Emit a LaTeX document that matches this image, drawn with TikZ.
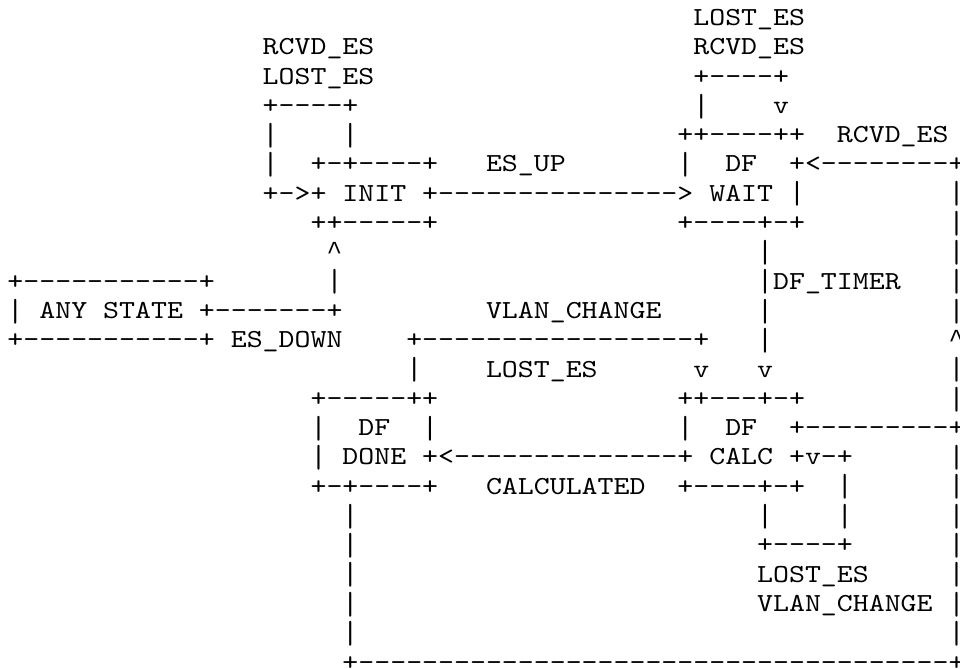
\documentclass[tikz,border=0pt]{standalone}
\usepackage{fontspec}
\newfontfamily\asciifont{lmmono10-regular.otf}[Ligatures=TeXOff,FakeStretch=1.1685]
\newfontfamily\caretfont{Liberation Mono}
\ExplSyntaxOn
\cs_new:Npn \dsh #1 { \prg_replicate:nn {#1} {-} }
\ExplSyntaxOff
\newcommand\vbr{\raisebox{-2.7pt}{\scalebox{1}[1.23]{|}}}
\newcommand\crt{\makebox[15.95pt]{\caretfont\textasciicircum}}
\tikzset{ch/.style={anchor=base west, inner sep=0pt, outer sep=0pt,
  font=\asciifont\fontsize{26}{26}\selectfont, text=black}}
\begin{document}
\begin{tikzpicture}[x=15.95pt,y=-29.3pt]
\useasboundingbox (-0.4702,0.1297) rectangle (59.718,22.929);
% line 1
\node[ch] (r1a) at (43,1) {LOST\_ES};
% line 2
\node[ch] (r2a) at (16,2) {RCVD\_ES};
\node[ch] (r2b) at (43,2) {RCVD\_ES};
% line 3
\node[ch] (r3a) at (16,3) {LOST\_ES};
\node[ch] (r3b) at (43,3) {+\dsh{4}+};
% line 4
\node[ch] (r4a) at (16,4) {+\dsh{4}+};
\node[ch] (r4b) at (43,4) {\vbr};
\node[ch] (r4c) at (48,4) {v};
% line 5
\node[ch] (r5a) at (16,5) {\vbr};
\node[ch] (r5b) at (21,5) {\vbr};
\node[ch] (r5c) at (42,5) {++\dsh{4}++};
\node[ch] (r5d) at (52,5) {RCVD\_ES};
% line 6
\node[ch] (r6a) at (16,6) {\vbr};
\node[ch] (r6b) at (19,6) {+-+\dsh{4}+};
\node[ch] (r6c) at (30,6) {ES\_UP};
\node[ch] (r6d) at (42,6) {\vbr};
\node[ch] (r6e) at (45,6) {DF};
\node[ch] (r6f) at (49,6) {+<\dsh{8}+};
% line 7
\node[ch] (r7a) at (16,7) {+->+};
\node[ch] (r7b) at (21,7) {INIT};
\node[ch] (r7c) at (26,7) {+\dsh{15}>};
\node[ch] (r7d) at (44,7) {WAIT};
\node[ch] (r7e) at (49,7) {\vbr};
\node[ch] (r7f) at (59,7) {\vbr};
% line 8
\node[ch] (r8a) at (19,8) {++\dsh{5}+};
\node[ch] (r8b) at (42,8) {+\dsh{4}+-+};
\node[ch] (r8c) at (59,8) {\vbr};
% line 9
\node[ch] (r9a) at (20,9) {\crt};
\node[ch] (r9b) at (47,9) {\vbr};
\node[ch] (r9c) at (59,9) {\vbr};
% line 10
\node[ch] (r10a) at (0,10) {+\dsh{11}+};
\node[ch] (r10b) at (20,10) {\vbr};
\node[ch] (r10c) at (47,10) {\vbr DF\_TIMER};
\node[ch] (r10d) at (59,10) {\vbr};
% line 11
\node[ch] (r11a) at (0,11) {\vbr};
\node[ch] (r11b) at (2,11) {ANY};
\node[ch] (r11c) at (6,11) {STATE};
\node[ch] (r11d) at (12,11) {+\dsh{7}+};
\node[ch] (r11e) at (30,11) {VLAN\_CHANGE};
\node[ch] (r11f) at (47,11) {\vbr};
\node[ch] (r11g) at (59,11) {\vbr};
% line 12
\node[ch] (r12a) at (0,12) {+\dsh{11}+};
\node[ch] (r12b) at (14,12) {ES\_DOWN};
\node[ch] (r12c) at (25,12) {+\dsh{17}+};
\node[ch] (r12d) at (47,12) {\vbr};
\node[ch] (r12e) at (59,12) {\crt};
% line 13
\node[ch] (r13a) at (25,13) {\vbr};
\node[ch] (r13b) at (30,13) {LOST\_ES};
\node[ch] (r13c) at (43,13) {v};
\node[ch] (r13d) at (47,13) {v};
\node[ch] (r13e) at (59,13) {\vbr};
% line 14
\node[ch] (r14a) at (19,14) {+\dsh{5}++};
\node[ch] (r14b) at (42,14) {++\dsh{3}+-+};
\node[ch] (r14c) at (59,14) {\vbr};
% line 15
\node[ch] (r15a) at (19,15) {\vbr};
\node[ch] (r15b) at (22,15) {DF};
\node[ch] (r15c) at (26,15) {\vbr};
\node[ch] (r15d) at (42,15) {\vbr};
\node[ch] (r15e) at (45,15) {DF};
\node[ch] (r15f) at (49,15) {+\dsh{9}+};
% line 16
\node[ch] (r16a) at (19,16) {\vbr};
\node[ch] (r16b) at (21,16) {DONE};
\node[ch] (r16c) at (26,16) {+<\dsh{14}+};
\node[ch] (r16d) at (44,16) {CALC};
\node[ch] (r16e) at (49,16) {+v-+};
\node[ch] (r16f) at (59,16) {\vbr};
% line 17
\node[ch] (r17a) at (19,17) {+-+\dsh{4}+};
\node[ch] (r17b) at (30,17) {CALCULATED};
\node[ch] (r17c) at (42,17) {+\dsh{4}+-+};
\node[ch] (r17d) at (52,17) {\vbr};
\node[ch] (r17e) at (59,17) {\vbr};
% line 18
\node[ch] (r18a) at (21,18) {\vbr};
\node[ch] (r18b) at (47,18) {\vbr};
\node[ch] (r18c) at (52,18) {\vbr};
\node[ch] (r18d) at (59,18) {\vbr};
% line 19
\node[ch] (r19a) at (21,19) {\vbr};
\node[ch] (r19b) at (47,19) {+\dsh{4}+};
\node[ch] (r19c) at (59,19) {\vbr};
% line 20
\node[ch] (r20a) at (21,20) {\vbr};
\node[ch] (r20b) at (47,20) {LOST\_ES};
\node[ch] (r20c) at (59,20) {\vbr};
% line 21
\node[ch] (r21a) at (21,21) {\vbr};
\node[ch] (r21b) at (47,21) {VLAN\_CHANGE};
\node[ch] (r21c) at (59,21) {\vbr};
% line 22
\node[ch] (r22a) at (21,22) {\vbr};
\node[ch] (r22b) at (59,22) {\vbr};
% line 23
\node[ch] (r23a) at (21,23) {+\dsh{37}+};
\end{tikzpicture}
\end{document}
